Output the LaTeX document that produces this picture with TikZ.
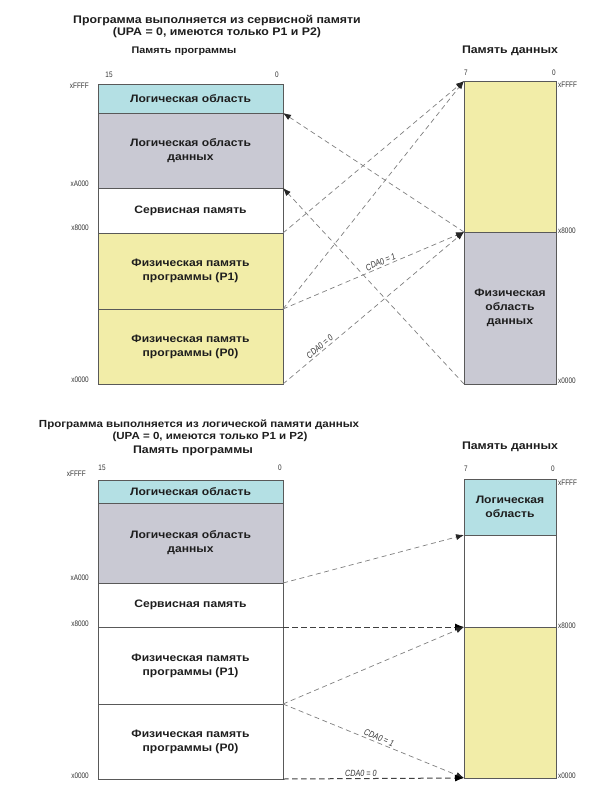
\documentclass[tikz,border=0pt]{standalone}
\usepackage{fontspec}
\setmainfont{Liberation Sans}
\newfontfamily\widesans[FakeStretch=1.12]{Liberation Sans}
\newfontfamily\narrowsans[FakeStretch=0.8]{Liberation Sans}
\usetikzlibrary{arrows.meta}
\definecolor{cyanfill}{HTML}{B4E0E4}
\definecolor{grayfill}{HTML}{C9C9D3}
\definecolor{yellowfill}{HTML}{F2EDA8}
\definecolor{txt}{HTML}{1E1E1E}
\tikzset{
  region/.style={draw=black!65, line width=0.6pt, inner sep=0pt, outer sep=0pt,
    anchor=north west, align=center, text=txt,
    font=\widesans\bfseries\fontsize{10.8}{14}\selectfont},
  title/.style={font=\widesans\bfseries\fontsize{11}{12}\selectfont, align=center, text=txt, inner sep=0pt},
  smalltitle/.style={font=\widesans\bfseries\fontsize{10.3}{12}\selectfont, align=center, text=txt, inner sep=0pt},
  head/.style={font=\widesans\bfseries\fontsize{9.6}{11}\selectfont, text=txt, inner sep=0pt},
  bighead/.style={font=\widesans\bfseries\fontsize{11}{12}\selectfont, text=txt, inner sep=0pt},
  addr/.style={font=\narrowsans\fontsize{8}{9}\selectfont, text=black!80, inner sep=0pt},
  cda/.style={font=\narrowsans\itshape\fontsize{9}{10}\selectfont, text=black!80, inner sep=1.5pt},
  conn/.style={draw=black!50, dash pattern=on 5pt off 3.5pt, line width=0.7pt,
    -{Latex[length=8pt,width=6pt,color=black!85]}},
  darkconn/.style={draw=black!75, dash pattern=on 5.5pt off 3.5pt, line width=1pt,
    -{Latex[length=9pt,width=7pt,color=black]}},
}
\begin{document}
\begin{tikzpicture}[x=1pt,y=-1pt]
\fill[white] (0,0) rectangle (600,795);
\useasboundingbox (0,0) rectangle (600,795);

% ================= TOP DIAGRAM =================
\node[title] (t1) at (217,21) {Программа выполняется из сервисной памяти};
\node[title] (t2) at (217,33) {(UPA = 0, имеются только P1 и P2)};
\node[head] (tph) at (184,51) {Память программы};
\node[bighead] (tdh) at (510,51) {Память данных};

\node[addr] (tb15) at (109,75) {15};
\node[addr] (tb0) at (277,75) {0};
\node[addr] (tdb7) at (466,73) {7};
\node[addr] (tdb0) at (554,73) {0};

% program memory
\node[region, fill=cyanfill, minimum width=185pt, minimum height=29pt] (tlog) at (98,84) {Логическая область};
\node[region, fill=grayfill, minimum width=185pt, minimum height=75pt] (tdata) at (98,113) {Логическая область\\данных};
\node[region, fill=white, minimum width=185pt, minimum height=45pt] (tserv) at (98,188) {Сервисная память};
\node[region, fill=yellowfill, minimum width=185pt, minimum height=76pt] (tp1) at (98,233) {Физическая память\\программы (P1)};
\node[region, fill=yellowfill, minimum width=185pt, minimum height=75pt] (tp0) at (98,309) {Физическая память\\программы (P0)};

% data memory
\node[region, fill=yellowfill, minimum width=92pt, minimum height=151pt] (tdl) at (464,81) {};
\node[region, fill=grayfill, minimum width=92pt, minimum height=152pt] (tdp) at (464,232) {Физическая\\область\\данных};

% addresses
\node[addr, anchor=east] (taF) at (89,86) {xFFFF};
\node[addr, anchor=east] (taA) at (89,184) {xA000};
\node[addr, anchor=east] (ta8) at (89,228) {x8000};
\node[addr, anchor=east] (ta0) at (89,380) {x0000};
\node[addr, anchor=west] (tdaF) at (558,85) {xFFFF};
\node[addr, anchor=west] (tda8) at (558,231) {x8000};
\node[addr, anchor=west] (tda0) at (558,381) {x0000};

% connectors
\draw[conn] (tdp.north west) -- (tlog.south east);
\draw[conn] (tdp.south west) -- (tdata.south east);
\draw[conn] (tserv.south east) -- (tdl.north west);
\draw[conn] (tp1.south east) -- (tdl.north west);
\draw[conn] (tp1.south east) -- node[cda, sloped, above, pos=0.55] (tc1) {CDA0 = 1} (tdp.north west);
\draw[conn] (tp0.south east) -- node[cda, sloped, above, pos=0.22] (tc0) {CDA0 = 0} (tdp.north west);

% ================= BOTTOM DIAGRAM =================
\node[smalltitle] (b1) at (199,425) {Программа выполняется из логической памяти данных};
\node[smalltitle] (b2) at (210,437) {(UPA = 0, имеются только P1 и P2)};
\node[bighead] (bph) at (193,451) {Память программы};
\node[bighead] (bdh) at (510,447) {Память данных};

\node[addr] (bb15) at (102,468) {15};
\node[addr] (bb0) at (280,468) {0};
\node[addr] (bdb7) at (466,469) {7};
\node[addr] (bdb0) at (553,469) {0};

% program memory
\node[region, fill=cyanfill, minimum width=185pt, minimum height=23pt] (blog) at (98,480) {Логическая область};
\node[region, fill=grayfill, minimum width=185pt, minimum height=80pt] (bdata) at (98,503) {Логическая область\\данных};
\node[region, fill=white, minimum width=185pt, minimum height=44pt] (bserv) at (98,583) {Сервисная память};
\node[region, fill=white, minimum width=185pt, minimum height=77pt] (bp1) at (98,627) {Физическая память\\программы (P1)};
\node[region, fill=white, minimum width=185pt, minimum height=75pt] (bp0) at (98,704) {Физическая память\\программы (P0)};

% data memory
\node[region, fill=cyanfill, minimum width=92pt, minimum height=56pt] (bdl) at (464,479) {Логическая\\область};
\node[region, fill=white, minimum width=92pt, minimum height=92pt] (bdw) at (464,535) {};
\node[region, fill=yellowfill, minimum width=92pt, minimum height=151pt] (bdy) at (464,627) {};

% addresses
\node[addr, anchor=east] (baF) at (86,474) {xFFFF};
\node[addr, anchor=east] (baA) at (89,578) {xA000};
\node[addr, anchor=east] (ba8) at (89,624) {x8000};
\node[addr, anchor=east] (ba0) at (89,776) {x0000};
\node[addr, anchor=west] (bdaF) at (558,483) {xFFFF};
\node[addr, anchor=west] (bda8) at (558,626) {x8000};
\node[addr, anchor=west] (bda0) at (558,776) {x0000};

% connectors
\draw[conn] (bdata.south east) -- (bdl.south west);
\draw[darkconn] (bserv.south east) -- (bdw.south west);
\draw[conn] (bp1.south east) -- (bdw.south west);
\draw[conn] (bp1.south east) -- node[cda, sloped, above, pos=0.52] (bc1) {CDA0 = 1} (bdy.south west);
\draw[darkconn] (bp0.south east) -- node[cda, above, pos=0.43] (bc0) {CDA0 = 0} (bdy.south west);
\end{tikzpicture}
\end{document}
